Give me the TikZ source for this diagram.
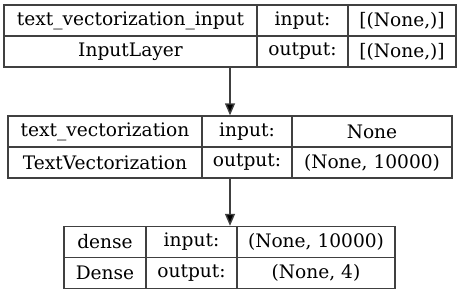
\documentclass[tikz,border=0pt]{standalone}
\usepackage{fontspec}
\setmainfont{DejaVu Serif}
\usetikzlibrary{arrows.meta}
\definecolor{EdgeGray}{RGB}{64,64,64}
\newcommand{\cellfont}{\fontsize{18.6pt}{20pt}\selectfont}

\begin{document}
\begin{tikzpicture}[
    x=1pt, y=-1pt,
    cell/.style={rectangle, draw=EdgeGray, line width=1.4pt, inner sep=0pt, minimum height=#1, font=\cellfont},
    cell/.default=31pt,
    arrow/.style={-{Triangle[length=12pt,width=10pt,fill=black]}, line width=1.4pt, draw=EdgeGray}
]
    \useasboundingbox (0,0) rectangle (460,295);

    % input layer
    \node[cell, minimum width=253pt] (inName) at (130.5,20.5) {text\_vectorization\_input};
    \node[cell, minimum width=91pt] (inInLbl) at (302.5,20.5) {input:};
    \node[cell, minimum width=108pt] (inInVal) at (402,20.5) {[(None,)]};
    \node[cell, minimum width=253pt] (inType) at (130.5,51.5) {InputLayer};
    \node[cell, minimum width=91pt] (inOutLbl) at (302.5,51.5) {output:};
    \node[cell, minimum width=108pt] (inOutVal) at (402,51.5) {[(None,)]};

    % text vectorization layer
    \node[cell, minimum width=194pt] (tvName) at (105,131.5) {text\_vectorization};
    \node[cell, minimum width=90pt] (tvInLbl) at (247,131.5) {input:};
    \node[cell, minimum width=160pt] (tvInVal) at (372,131.5) {None};
    \node[cell, minimum width=194pt] (tvType) at (105,162.5) {TextVectorization};
    \node[cell, minimum width=90pt] (tvOutLbl) at (247,162.5) {output:};
    \node[cell, minimum width=160pt] (tvOutVal) at (372,162.5) {(None, 10000)};

    % dense layer
    \node[cell, minimum width=82pt] (dnName) at (105,242) {dense};
    \node[cell, minimum width=91pt] (dnInLbl) at (191.5,242) {input:};
    \node[cell, minimum width=158pt] (dnInVal) at (316,242) {(None, 10000)};
    \node[cell, minimum width=82pt] (dnType) at (105,273) {Dense};
    \node[cell, minimum width=91pt] (dnOutLbl) at (191.5,273) {output:};
    \node[cell, minimum width=158pt] (dnOutVal) at (316,273) {(None, 4)};

    \draw[arrow] (inOutLbl.south west -| 230,0) -- (tvInLbl.north west -| 230,0);
    \draw[arrow] (tvOutLbl.south west -| 230,0) -- (dnInVal.north west -| 230,0);
\end{tikzpicture}
\end{document}
